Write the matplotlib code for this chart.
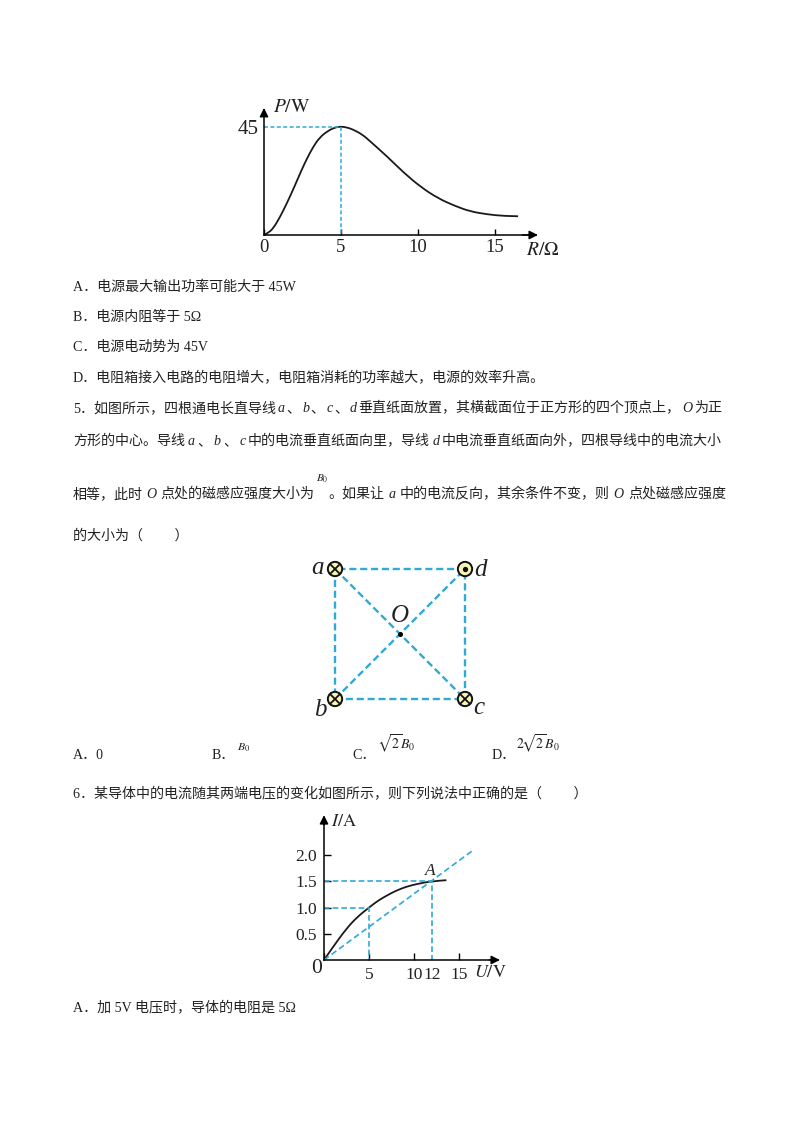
import matplotlib
matplotlib.use("Agg")
import matplotlib.pyplot as plt
from matplotlib.patches import Circle, PathPatch
from matplotlib.path import Path

plt.rcParams['font.family'] = ['Liberation Serif', 'Noto Sans CJK SC']
plt.rcParams['mathtext.fontset'] = 'stix'

W, H = 800, 1132
BLUE = '#2fa9d6'
INK = '#222222'

# P-R curve
power_r = [0, 0.3, 0.6, 1.0, 1.5, 2.0, 2.4, 2.8, 3.2, 3.6, 4.1, 4.6, 5.0, 5.4, 5.8, 6.4, 6.9, 8.0,
           9.1, 10.2, 11.3, 12.4, 13.4, 14.5, 15.6, 16.5]
power_p = [0, 1.0, 2.8, 7.0, 13.4, 20.5, 26.5, 32.0, 36.8, 40.5, 43.2, 44.8, 45.2, 44.8, 43.9, 41.8, 39, 32.7,
           25.8, 19.9, 15.3, 12.1, 9.8, 8.6, 7.9, 7.8]
power_peak = (5, 45)
power_xticks = [0, 5, 10, 15]
power_xlabels = ['0', '5', '10', '15']

# square of wires
wire_names = ['a', 'b', 'c', 'd']
wire_x = [0, 0, 1, 1]
wire_y = [1, 0, 0, 1]
wire_dir = ['in', 'in', 'in', 'out']

# I-U curve
iu_u = [0, 1.0, 2.5, 3.7, 5.0, 6.0, 7.0, 8.0, 9.2, 10.4, 11.9, 13.6]
iu_i = [0, 0.25, 0.60, 0.82, 1.0, 1.13, 1.23, 1.32, 1.40, 1.45, 1.50, 1.52]
iu_line_u = [0, 16.6]
iu_line_i = [0, 2.095]
iu_xticks = [0, 5, 10, 12, 15]
iu_xlabels = ['', '5', '10', '12', '15']
iu_yticks = [0.5, 1.0, 1.5, 2.0]
iu_ylabels = ['0.5', '1.0', '1.5', '2.0']

fig = plt.figure(figsize=(W / 100, H / 100), dpi=100, facecolor='white')


def px_axes(left, top, right, bottom):
    ax = fig.add_axes([left / W, 1 - bottom / H, (right - left) / W, (bottom - top) / H])
    ax.patch.set_alpha(0)
    return ax


def put(x, y, s, size=10.1, **kw):
    return fig.text(x / W, 1 - y / H, s, fontsize=size, va='baseline', color=kw.pop('color', INK), **kw)


def line(x, y, runs, right=None):
    # runs are strings, ones starting with * are italic; spare width goes between runs
    r = fig.canvas.get_renderer()
    items = []
    for run in runs:
        it = run.startswith('*')
        t = put(x, y, run[1:] if it else run, style='italic' if it else 'normal')
        items.append((t, t.get_window_extent(r).width))
    gap = 1.5
    if right is not None and len(items) > 1:
        gap = (right - x - sum(w for _, w in items)) / (len(items) - 1)
    for t, w in items:
        t.set_x(x / W)
        x += w + gap


def smooth(ax, xs, ys, **kw):
    # quadratic segments through the midpoints of the read points
    verts = [(xs[0], ys[0])]
    codes = [Path.MOVETO]
    for i in range(1, len(xs) - 1):
        end = (xs[-1], ys[-1]) if i == len(xs) - 2 else ((xs[i] + xs[i + 1]) / 2, (ys[i] + ys[i + 1]) / 2)
        verts += [(xs[i], ys[i]), end]
        codes += [Path.CURVE3, Path.CURVE3]
    ax.add_patch(PathPatch(Path(verts, codes), fc='none', **kw))


def arrows(ax, xend, yend):
    style = dict(arrowstyle='-|>', color='black', lw=1, mutation_scale=13, shrinkA=0, shrinkB=0)
    ax.annotate('', xy=(xend, 0), xytext=(0.95, 0), xycoords='axes fraction', arrowprops=style)
    ax.annotate('', xy=(0, yend), xytext=(0, 0.95), xycoords='axes fraction', arrowprops=style)
    ax.spines[['top', 'right']].set_visible(False)
    ax.spines[['left', 'bottom']].set_linewidth(1.1)


# first chart
ax1 = px_axes(264, 110, 536, 235)
ax1.set_xlim(0, 272 / 15.4)
ax1.set_ylim(0, 125 / 2.4)
smooth(ax1, power_r, power_p, ec='#1a1a1a', lw=1.3, clip_on=False)
ax1.plot([0, power_peak[0], power_peak[0]], [power_peak[1], power_peak[1], 0], color=BLUE, lw=1.1, ls=(0, (2.6, 1.6)))
ax1.set_xticks(power_xticks, power_xlabels, fontsize=13.5, color=INK)
ax1.set_yticks([power_peak[1]], ['45'], fontsize=15, color=INK)
ax1.tick_params(axis='x', direction='in', length=4, width=1, pad=3)
ax1.tick_params(axis='y', length=0, pad=4)
arrows(ax1, 1.007, 1.016)
put(273, 112, r'$P/\mathrm{W}$', size=14)
put(526, 255, r'$R/\mathrm{\Omega}$', size=14)

# text under the first chart
line(73, 291, ['A．电源最大输出功率可能大于 45W'])
line(73, 321, ['B．电源内阻等于 5Ω'])
line(73, 351, ['C．电源电动势为 45V'])
line(73, 382, ['D．电阻箱接入电路的电阻增大，电阻箱消耗的功率越大，电源的效率升高。'])
line(73, 412, ['5．如图所示，四根通电长直导线', '*a', '、', '*b', '、', '*c', '、', '*d',
               '垂直纸面放置，其横截面位于正方形的四个顶点上，', '*O', '为正'], right=722)
line(73, 445, ['方形的中心。导线', '*a', '、', '*b', '、', '*c', '中的电流垂直纸面向里，导线', '*d',
               '中电流垂直纸面向外，四根导线中的电流大小'], right=722)
line(73, 498, ['相等，此时', '*O', '点处的磁感应强度大小为'], right=314)
put(316, 482, r'$B_0$', size=8)
line(328, 498, ['。如果让', '*a', '中的电流反向，其余条件不变，则', '*O', '点处磁感应强度'], right=726)
line(73, 540, ['的大小为（　　 ）'])

# square of wires
ax2 = px_axes(335, 569, 465, 699)
ax2.set_xlim(0, 1)
ax2.set_ylim(0, 1)
ax2.axis('off')
dash = dict(color=BLUE, lw=1.7, ls=(0, (3, 1.6)), zorder=1, clip_on=False)
for i, j in [(0, 1), (1, 2), (2, 3), (3, 0), (0, 2), (1, 3)]:
    ax2.plot([wire_x[i], wire_x[j]], [wire_y[i], wire_y[j]], **dash)
for x, y, d in zip(wire_x, wire_y, wire_dir):
    ax2.add_patch(Circle((x, y), 0.055, fc='#f6f3b5', ec='#111111', lw=1.4, zorder=3, clip_on=False))
    if d == 'in':
        ax2.plot(x, y, marker='x', ms=7, mew=1.3, color='#111111', zorder=4, clip_on=False)
    else:
        ax2.plot(x, y, marker='o', ms=2.8, color='#111111', zorder=4, clip_on=False)
ax2.plot(0.5, 0.5, marker='o', ms=2.6, color='black', zorder=4)
put(311, 574, 'a', size=18, style='italic')
put(474, 576, 'd', size=18, style='italic')
put(314, 716, 'b', size=18, style='italic')
put(473, 714, 'c', size=18, style='italic')
put(391, 622, 'O', size=18, style='italic')

# options
line(73, 759, ['A．0'])
line(212, 759, ['B．'])
line(352, 759, ['C．'])
line(492, 759, ['D．'])
put(237, 750, r'$B_0$', size=8.5)
put(377, 749, r'$\sqrt{2}B_0$', size=10)
put(516, 749, r'$2\!\sqrt{2}B_0$', size=10)
line(73, 798, ['6．某导体中的电流随其两端电压的变化如图所示，则下列说法中正确的是（　　 ）'])

# second chart
ax3 = px_axes(324, 818, 498, 960)
ax3.set_xlim(0, 174 / 9.0)
ax3.set_ylim(0, 142 / 52.5)
smooth(ax3, iu_u, iu_i, ec='#1a1a1a', lw=1.3)
ax3.plot(iu_line_u, iu_line_i, color=BLUE, lw=1.2, ls=(0, (3.6, 2)))
ax3.plot([0, 5, 5], [1, 1, 0], color=BLUE, lw=1.2, ls=(0, (3.4, 1.8)))
ax3.plot([0, 12, 12], [1.5, 1.5, 0], color=BLUE, lw=1.2, ls=(0, (3.4, 1.8)))
ax3.set_xticks(iu_xticks, iu_xlabels, fontsize=12.5, color=INK)
ax3.set_yticks(iu_yticks, iu_ylabels, fontsize=12.5, color=INK)
ax3.tick_params(axis='both', direction='in', length=5, width=1, pad=5)
ax3.tick_params(axis='x', pad=5)
ax3.xaxis.get_majorticklines()[6].set_visible(False)
arrows(ax3, 1.011, 1.02)
ax3.text(11.2, 1.62, 'A', fontsize=12.5, style='italic', color=INK)
put(331, 826, r'$I/\mathrm{A}$', size=13)
put(311, 973, '0', size=15.5)
put(474, 977, r'$U/\mathrm{V}$', size=13)

line(73, 1012, ['A．加 5V 电压时，导体的电阻是 5Ω'])

fig.savefig('out.png', dpi=100)
